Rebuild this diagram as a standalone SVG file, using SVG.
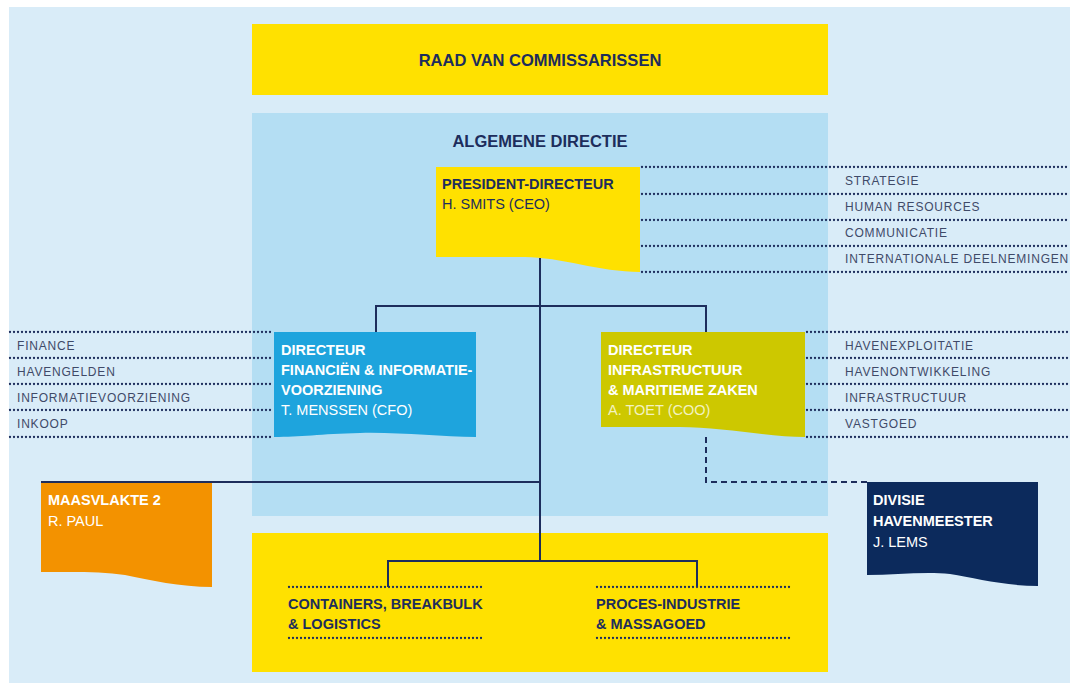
<svg xmlns="http://www.w3.org/2000/svg" width="1070" height="685" viewBox="0 0 1070 685">
<style>
.h{font-family:"Liberation Sans",Arial,sans-serif;font-weight:bold;fill:#1d2d5c}
.t{font-family:"Liberation Sans",Arial,sans-serif;font-size:14.5px;font-weight:bold}
.r{font-weight:normal}
.lab{font-family:"Liberation Sans",Arial,sans-serif;font-size:12px;fill:#3f4a68;letter-spacing:0.8px}
.dot{stroke:#1d2d5c;stroke-width:2.3;stroke-dasharray:0 4;stroke-linecap:round;fill:none}
.ln{stroke:#1d2d5c;stroke-width:2;fill:none}
.dash{stroke:#1d2d5c;stroke-width:2;stroke-dasharray:6 4;fill:none}
</style>
<rect x="0" y="0" width="1070" height="685" fill="#ffffff"/>
<rect x="9" y="7" width="1061" height="676" fill="#d9ecf8"/>
<g id="raad">
<rect x="252" y="24" width="576" height="71" fill="#ffe100"/>
<text class="h" x="540" y="66" font-size="16.5" text-anchor="middle">RAAD VAN COMMISSARISSEN</text>
</g>
<g id="algemene-directie">
<rect x="252" y="113" width="576" height="403" fill="#b4def3"/>
<text class="h" x="540" y="147" font-size="16.5" text-anchor="middle">ALGEMENE DIRECTIE</text>
</g>
<g id="bedrijfsonderdelen">
<rect x="252" y="533" width="576" height="139" fill="#ffe100"/>
</g>
<g id="connectors">
<path class="ln" d="M540 258 V561 M376 306 H706 M376 305 V332 M706 305 V332 M41 482 H541 M388 561 H697 M388 560 V587 M697 560 V587"/>
<path class="dash" d="M706 437 V482 H867"/>
</g>
<g id="president">
<path d="M436 167 H640 V272 C600 272 560 257 525 257 H436 Z" fill="#ffe100"/>
<text class="t" x="442" y="189" fill="#1d2d5c">PRESIDENT-DIRECTEUR</text>
<text class="t r" x="442" y="209" fill="#1d2d5c">H. SMITS (CEO)</text>
</g>
<g id="staf">
<path class="dot" d="M642 167 H1070 M642 194 H1070 M642 220 H1070 M642 246 H1070 M642 272 H1070"/>
<text class="lab" x="845" y="185">STRATEGIE</text>
<text class="lab" x="845" y="211">HUMAN RESOURCES</text>
<text class="lab" x="845" y="237">COMMUNICATIE</text>
<text class="lab" x="845" y="263">INTERNATIONALE DEELNEMINGEN</text>
</g>
<g id="cfo">
<path d="M274 332 H476 V437 C440 437 400 432 360 433 C320 434 300 437 274 437 Z" fill="#1ea4dd"/>
<text class="t" x="281" y="355" fill="#ffffff">DIRECTEUR</text>
<text class="t" x="281" y="375" fill="#ffffff">FINANCIËN &amp; INFORMATIE-</text>
<text class="t" x="281" y="395" fill="#ffffff">VOORZIENING</text>
<text class="t r" x="281" y="415" fill="#ffffff">T. MENSSEN (CFO)</text>
</g>
<g id="cfo-afdelingen">
<path class="dot" d="M10 332 H272 M10 358 H272 M10 384 H272 M10 410 H272 M10 437 H272"/>
<text class="lab" x="17" y="350">FINANCE</text>
<text class="lab" x="17" y="376">HAVENGELDEN</text>
<text class="lab" x="17" y="402">INFORMATIEVOORZIENING</text>
<text class="lab" x="17" y="428">INKOOP</text>
</g>
<g id="coo">
<path d="M601 332 H805 V437 C770 437 720 427 680 427 H601 Z" fill="#cdc800"/>
<text class="t" x="608" y="355" fill="#ffffff">DIRECTEUR</text>
<text class="t" x="608" y="375" fill="#ffffff">INFRASTRUCTUUR</text>
<text class="t" x="608" y="395" fill="#ffffff">&amp; MARITIEME ZAKEN</text>
<text class="t r" x="608" y="415" fill="#f3f2c0">A. TOET (COO)</text>
</g>
<g id="coo-afdelingen">
<path class="dot" d="M807 332 H1070 M807 358 H1070 M807 384 H1070 M807 410 H1070 M807 437 H1070"/>
<text class="lab" x="845" y="350">HAVENEXPLOITATIE</text>
<text class="lab" x="845" y="376">HAVENONTWIKKELING</text>
<text class="lab" x="845" y="402">INFRASTRUCTUUR</text>
<text class="lab" x="845" y="428">VASTGOED</text>
</g>
<g id="maasvlakte">
<path d="M41 483 H212 V587 C180 587 150 580 125 575 C100 571 70 572 41 572 Z" fill="#f39200"/>
<text class="t" x="48" y="505" fill="#ffffff">MAASVLAKTE 2</text>
<text class="t r" x="48" y="526" fill="#ffffff">R. PAUL</text>
</g>
<g id="havenmeester">
<path d="M867 482 H1038 V586 C1005 586 975 578 950 574 C925 571 895 575 867 575 Z" fill="#0c2a5c"/>
<text class="t" x="873" y="505" fill="#ffffff">DIVISIE</text>
<text class="t" x="873" y="526" fill="#ffffff">HAVENMEESTER</text>
<text class="t r" x="873" y="547" fill="#ffffff">J. LEMS</text>
</g>
<g id="containers">
<path class="dot" d="M289 587 H483 M289 638 H483"/>
<text class="t" x="288" y="609" fill="#1d2d5c">CONTAINERS, BREAKBULK</text>
<text class="t" x="288" y="629" fill="#1d2d5c">&amp; LOGISTICS</text>
</g>
<g id="proces-industrie">
<path class="dot" d="M597 587 H791 M597 638 H791"/>
<text class="t" x="596" y="609" fill="#1d2d5c">PROCES-INDUSTRIE</text>
<text class="t" x="596" y="629" fill="#1d2d5c">&amp; MASSAGOED</text>
</g>
</svg>
